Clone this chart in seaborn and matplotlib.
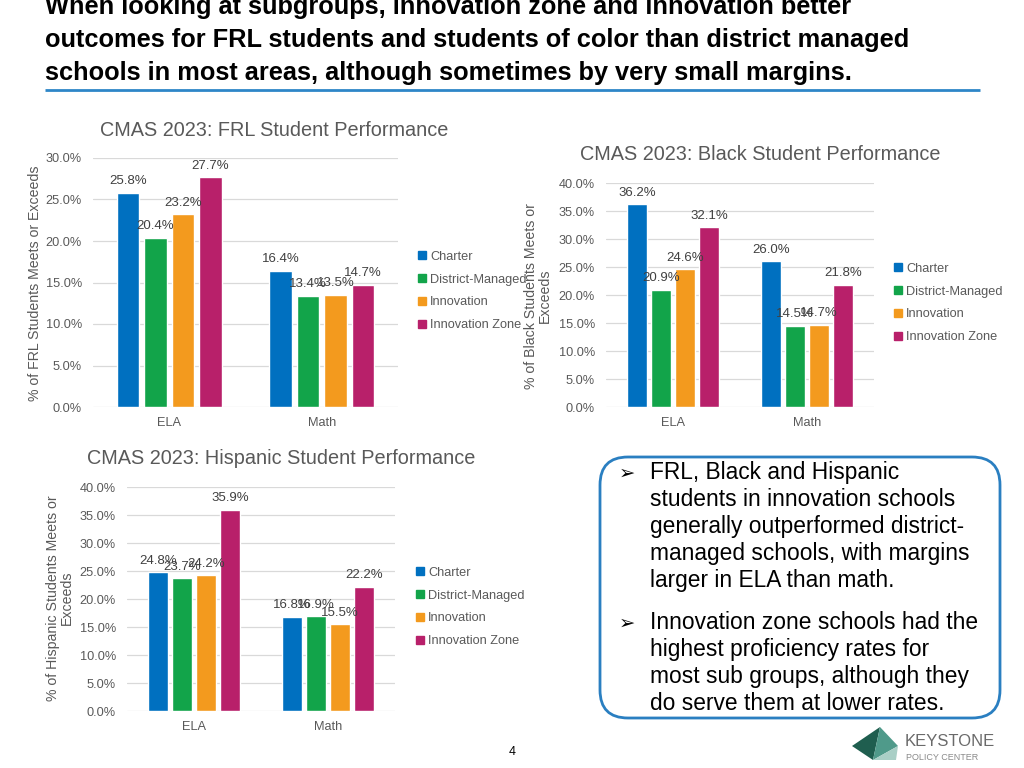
"""
CMAS 2023 subgroup performance slide: FRL, Black and Hispanic students by school type.
"""

import numpy as np
import pandas as pd
import seaborn as sns
from matplotlib import pyplot as plt
from matplotlib.patches import FancyBboxPatch, Polygon, Patch
from matplotlib.ticker import FuncFormatter

# Data (percent meets/exceeds)
SUBJECTS = ["ELA", "Math"]
SCHOOL_TYPES = ["Charter", "District-Managed", "Innovation", "Innovation Zone"]
COLORS = ["#0070C0", "#12A44A", "#F39A1E", "#B8206A"]

FRL_ELA = [25.8, 20.4, 23.2, 27.7]
FRL_MATH = [16.4, 13.4, 13.5, 14.7]
BLACK_ELA = [36.2, 20.9, 24.6, 32.1]
BLACK_MATH = [26.0, 14.5, 14.7, 21.8]
HISP_ELA = [24.8, 23.7, 24.2, 35.9]
HISP_MATH = [16.8, 16.9, 15.5, 22.2]

HEADER = [
    "When looking at subgroups, innovation zone and innovation better",
    "outcomes for FRL students and students of color than district managed",
    "schools in most areas, although sometimes by very small margins.",
]
BULLET_1 = [
    "FRL, Black and Hispanic",
    "students in innovation schools",
    "generally outperformed district-",
    "managed schools, with margins",
    "larger in ELA than math.",
]
BULLET_2 = [
    "Innovation zone schools had the",
    "highest proficiency rates for",
    "most sub groups, although they",
    "do serve them at lower rates.",
]

W, H = 1024, 768
GREY = "#595959"

sns.set_style("white")
plt.rcParams["font.family"] = ["Liberation Sans", "DejaVu Sans"]


def make_frame(ela, math):
    rows = []
    for subject, values in zip(SUBJECTS, [ela, math]):
        for school, value in zip(SCHOOL_TYPES, values):
            rows.append({"Subject": subject, "School": school, "Value": value})
    return pd.DataFrame(rows)


def draw_chart(fig, box, ela, math, ymax, title, title_xy, ylabel, ylabel_xy, legend_xy):
    # box is (left, top, right, bottom) in pixels
    left, top, right, bottom = box
    ax = fig.add_axes([left / W, 1 - bottom / H, (right - left) / W, (bottom - top) / H])

    df = make_frame(ela, math)
    sns.barplot(data=df, x="Subject", y="Value", hue="School",
                order=SUBJECTS, hue_order=SCHOOL_TYPES, palette=COLORS,
                width=0.72, gap=0.18, saturation=1, errorbar=None,
                legend=False, ax=ax)

    for container in ax.containers:
        ax.bar_label(container, fmt="%.1f%%", padding=4, fontsize=9.5, color="#404040")

    ax.set_xlim(-0.5, 1.5)
    ax.set_ylim(0, ymax)
    ax.set_yticks(np.arange(0, ymax + 0.1, 5))
    ax.yaxis.set_major_formatter(FuncFormatter(lambda v, p: f"{v:.1f}%"))
    ax.grid(axis="y", color="#d9d9d9", lw=0.9)
    ax.set_axisbelow(True)
    sns.despine(ax=ax, left=True, bottom=True)
    ax.tick_params(axis="both", length=0, colors=GREY, labelsize=9.2)
    ax.tick_params(axis="y", pad=8)
    ax.tick_params(axis="x", pad=7)
    ax.set(xlabel=None, ylabel=None)

    fig.text(title_xy[0] / W, 1 - title_xy[1] / H, title, ha="center", va="center",
             fontsize=14.3, color=GREY)
    fig.text(ylabel_xy[0] / W, 1 - ylabel_xy[1] / H, ylabel, ha="center", va="center",
             rotation=90, fontsize=10.2, color=GREY, multialignment="center",
             linespacing=1.0)

    handles = [Patch(color=c) for c in COLORS]
    ax.legend(handles, SCHOOL_TYPES, loc="center left",
              bbox_to_anchor=(legend_xy[0] / W, 1 - legend_xy[1] / H),
              bbox_transform=fig.transFigure, frameon=False, fontsize=9.2,
              handlelength=0.6, handleheight=0.6, handletextpad=0.35,
              labelspacing=0.86, borderpad=0, borderaxespad=0, labelcolor=GREY)
    return ax


fig = plt.figure(figsize=(W / 100, H / 100), dpi=100)

# Overlay in pixel coordinates for the slide decorations
ov = fig.add_axes([0, 0, 1, 1])
ov.set_xlim(0, W)
ov.set_ylim(H, 0)
ov.axis("off")
ov.patch.set_alpha(0)

for y, line in zip([14, 47, 80], HEADER):
    ov.text(45, y, line, fontsize=18.3, fontweight="bold", va="baseline", ha="left", color="black")
ov.plot([45, 980], [90, 90], color="#2E86C8", lw=2, solid_capstyle="butt")

# Text box with bullets
ov.add_patch(FancyBboxPatch((600, 457), 400, 261, boxstyle="round,pad=0,rounding_size=28",
                            fc="white", ec="#2A7FC1", lw=2))
for lines, y0 in [(BULLET_1, 479), (BULLET_2, 629)]:
    ov.text(619, y0, "\u27a2", fontsize=14, va="baseline", ha="left", color="black")
    for i, line in enumerate(lines):
        ov.text(650, y0 + i * 27, line, fontsize=16.4, va="baseline", ha="left", color="black")

# Page number and logo
ov.text(512, 752, "4", fontsize=9, ha="center", va="center", color="black")
ov.add_patch(Polygon([(852, 746), (880, 727), (873, 760)], closed=True, fc="#1F5E4F", ec="none"))
ov.add_patch(Polygon([(880, 727), (898, 746), (873, 760)], closed=True, fc="#4F9A8A", ec="none"))
ov.add_patch(Polygon([(873, 760), (898, 746), (896, 760)], closed=True, fc="#A9CFC6", ec="none"))
ov.text(905, 741, "KEYSTONE", fontsize=12, ha="left", va="center", color="#6A6A6A")
ov.text(906, 758, "POLICY CENTER", fontsize=6.5, ha="left", va="center", color="#8A8A8A")

# The three charts
draw_chart(fig, (93, 158, 398, 407), FRL_ELA, FRL_MATH, 30,
           "CMAS 2023: FRL Student Performance", (274, 130),
           "% of FRL Students Meets or Exceeds", (35, 283), (418, 291))
draw_chart(fig, (606, 183, 874, 407), BLACK_ELA, BLACK_MATH, 40,
           "CMAS 2023: Black Student Performance", (760, 155),
           "% of Black Students Meets or\nExceeds", (538, 296), (894, 303))
draw_chart(fig, (127, 487, 395, 711), HISP_ELA, HISP_MATH, 40,
           "CMAS 2023: Hispanic Student Performance", (281, 458),
           "% of Hispanic Students Meets or\nExceeds", (60, 598), (416, 607))

plt.savefig("out.png", dpi=100)
